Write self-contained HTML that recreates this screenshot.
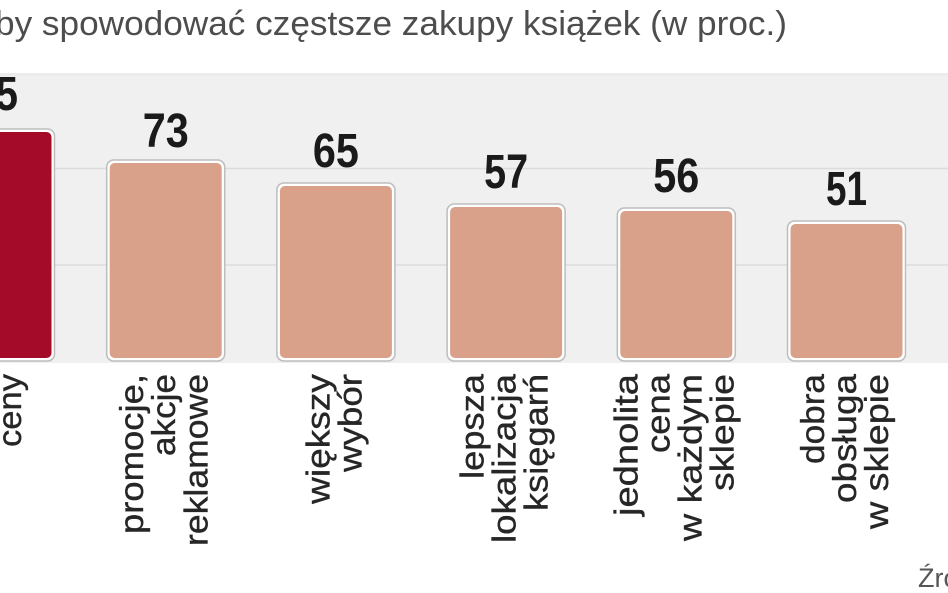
<!DOCTYPE html>
<html>
<head>
<meta charset="utf-8">
<style>
  html,body{margin:0;padding:0;background:#ffffff;}
  body{width:948px;height:593px;overflow:hidden;}
  svg{display:block;}
  .lab{font-family:"Liberation Sans","DejaVu Sans",sans-serif;font-size:33px;fill:#262626;stroke:#262626;stroke-width:0.35px;}
  .val{font-family:"Liberation Sans","DejaVu Sans",sans-serif;font-size:48px;font-weight:bold;fill:#1a1a1a;}
</style>
</head>
<body>
<svg width="948" height="593" viewBox="0 0 948 593" xmlns="http://www.w3.org/2000/svg">
  <!-- title -->
  <text x="-5" y="35" font-family="Liberation Sans, DejaVu Sans, sans-serif" font-size="34" fill="#4d4d4d" textLength="792" lengthAdjust="spacingAndGlyphs">by spowodować częstsze zakupy książek (w proc.)</text>

  <!-- panel -->
  <rect x="0" y="73" width="948" height="290" fill="#f0f0f0"/>
  <rect x="0" y="73" width="948" height="3" fill="#ececec"/>
  <line x1="0" y1="168.5" x2="948" y2="168.5" stroke="#dcdcdc" stroke-width="1.5"/>
  <line x1="0" y1="265" x2="948" y2="265" stroke="#dcdcdc" stroke-width="1.5"/>

  <!-- bars -->
  <g>
    <rect x="-63.5" y="129" width="118" height="232" rx="7" fill="#ffffff" stroke="#bdbdbd" stroke-width="1.5"/>
    <rect x="-60.5" y="132" width="112" height="226" rx="5" fill="#a30b28"/>

    <rect x="106.7" y="160" width="118" height="201" rx="7" fill="#ffffff" stroke="#bdbdbd" stroke-width="1.5"/>
    <rect x="109.7" y="163" width="112" height="195" rx="5" fill="#d9a08a"/>

    <rect x="276.9" y="183" width="118" height="178" rx="7" fill="#ffffff" stroke="#bdbdbd" stroke-width="1.5"/>
    <rect x="279.9" y="186" width="112" height="172" rx="5" fill="#d9a08a"/>

    <rect x="447.1" y="204" width="118" height="157" rx="7" fill="#ffffff" stroke="#bdbdbd" stroke-width="1.5"/>
    <rect x="450.1" y="207" width="112" height="151" rx="5" fill="#d9a08a"/>

    <rect x="617.3" y="208" width="118" height="153" rx="7" fill="#ffffff" stroke="#bdbdbd" stroke-width="1.5"/>
    <rect x="620.3" y="211" width="112" height="147" rx="5" fill="#d9a08a"/>

    <rect x="787.5" y="221" width="118" height="140" rx="7" fill="#ffffff" stroke="#bdbdbd" stroke-width="1.5"/>
    <rect x="790.5" y="224" width="112" height="134" rx="5" fill="#d9a08a"/>
  </g>

  <!-- values -->
  <text class="val" x="-4.5" y="110" text-anchor="middle" textLength="45" lengthAdjust="spacingAndGlyphs">85</text>
  <text class="val" x="165.7" y="147" text-anchor="middle" textLength="46" lengthAdjust="spacingAndGlyphs">73</text>
  <text class="val" x="335.9" y="167" text-anchor="middle" textLength="46" lengthAdjust="spacingAndGlyphs">65</text>
  <text class="val" x="506.1" y="188" text-anchor="middle" textLength="44" lengthAdjust="spacingAndGlyphs">57</text>
  <text class="val" x="676.3" y="192" text-anchor="middle" textLength="46" lengthAdjust="spacingAndGlyphs">56</text>
  <text class="val" x="846.5" y="205" text-anchor="middle" textLength="41" lengthAdjust="spacingAndGlyphs">51</text>

  <!-- category labels (rotated) -->
  <!-- bar1 c=-4.5, n=2 -->
  <text class="lab" transform="translate(-11,474) rotate(-90)" textLength="100" lengthAdjust="spacingAndGlyphs">niższe</text>
  <text class="lab" transform="translate(21,447) rotate(-90)" textLength="73" lengthAdjust="spacingAndGlyphs">ceny</text>

  <!-- bar2 c=165.7, n=3 -->
  <text class="lab" transform="translate(143,534) rotate(-90)" textLength="160" lengthAdjust="spacingAndGlyphs">promocje,</text>
  <text class="lab" transform="translate(175,456) rotate(-90)" textLength="82" lengthAdjust="spacingAndGlyphs">akcje</text>
  <text class="lab" transform="translate(207.5,546) rotate(-90)" textLength="172" lengthAdjust="spacingAndGlyphs">reklamowe</text>

  <!-- bar3 c=335.9, n=2 -->
  <text class="lab" transform="translate(329.5,504) rotate(-90)" textLength="130" lengthAdjust="spacingAndGlyphs">większy</text>
  <text class="lab" transform="translate(361.5,472) rotate(-90)" textLength="98" lengthAdjust="spacingAndGlyphs">wybór</text>

  <!-- bar4 c=506.1, n=3 -->
  <text class="lab" transform="translate(483.5,479) rotate(-90)" textLength="105" lengthAdjust="spacingAndGlyphs">lepsza</text>
  <text class="lab" transform="translate(515.5,543) rotate(-90)" textLength="169" lengthAdjust="spacingAndGlyphs">lokalizacja</text>
  <text class="lab" transform="translate(547.5,511) rotate(-90)" textLength="137" lengthAdjust="spacingAndGlyphs">księgarń</text>

  <!-- bar5 c=676.3, n=4 -->
  <text class="lab" transform="translate(637.5,516) rotate(-90)" textLength="142" lengthAdjust="spacingAndGlyphs">jednolita</text>
  <text class="lab" transform="translate(669.5,453) rotate(-90)" textLength="79" lengthAdjust="spacingAndGlyphs">cena</text>
  <text class="lab" transform="translate(701.5,541) rotate(-90)" textLength="167" lengthAdjust="spacingAndGlyphs">w każdym</text>
  <text class="lab" transform="translate(733.5,491) rotate(-90)" textLength="117" lengthAdjust="spacingAndGlyphs">sklepie</text>

  <!-- bar6 c=846.5, n=3 -->
  <text class="lab" transform="translate(824,464) rotate(-90)" textLength="90" lengthAdjust="spacingAndGlyphs">dobra</text>
  <text class="lab" transform="translate(856,503) rotate(-90)" textLength="129" lengthAdjust="spacingAndGlyphs">obsługa</text>
  <text class="lab" transform="translate(888,529) rotate(-90)" textLength="155" lengthAdjust="spacingAndGlyphs">w sklepie</text>

  <!-- source -->
  <text x="918" y="587" font-family="Liberation Sans, DejaVu Sans, sans-serif" font-size="27" fill="#555555">Źródło: CBOS</text>
</svg>
</body>
</html>
